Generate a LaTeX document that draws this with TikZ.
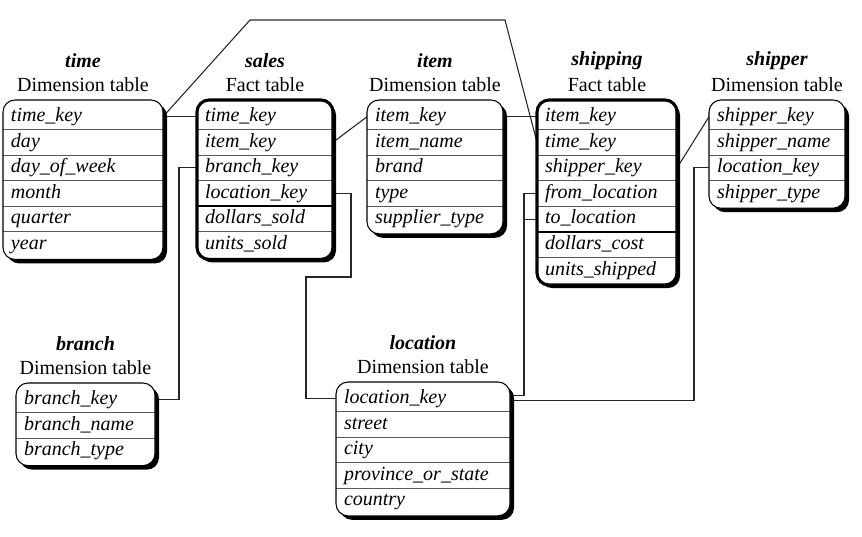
\documentclass[tikz,border=0pt]{standalone}
\usepackage{fontspec}
\setmainfont{Liberation Serif}
\usetikzlibrary{calc}
\pgfdeclarelayer{bg}
\pgfsetlayers{bg,main}
\tikzset{
  rowtext/.style={font=\fontsize{15pt}{18pt}\selectfont\itshape, inner xsep=6pt, inner ysep=0pt, outer sep=0pt, minimum height=19.2pt, align=left},
  ttl/.style={font=\fontsize{15pt}{18pt}\selectfont\bfseries\itshape, inner sep=0pt},
  sub/.style={font=\fontsize{15pt}{18pt}\selectfont, inner sep=0pt},
  sep/.style={draw=black!65, line width=0.85pt},
  thicksep/.style={draw=black, line width=1.6pt},
  dimborder/.style={draw=black, line width=0.8pt},
  factborder/.style={draw=black, line width=2.3pt},
  conn/.style={draw=black!85, line width=0.8pt},
}
% #1 name #2 L #3 R #4 T #5 title #6 subtitle #7 fact(1/0) #8 rows #9 thick separator index
\newcommand\dbtable[9]{%
  \foreach \r [count=\k] in {#8} {\xdef\dbn{\k}}%
  \pgfmathsetmacro\dbB{#4+29.5+(\dbn-2)*25.6+27.5}%
  \pgfmathsetmacro\dbtw{(#3-#2)*0.75}%
  \pgfmathsetmacro\dbtxw{(#3-#2)*0.75-12}%
  \ifnum#7=1
    \fill[black,rounded corners=9pt] (#2+3,#4+3) rectangle (#3+3,\dbB+3);
  \else
    \fill[black,rounded corners=9pt] (#2+4,#4+4) rectangle (#3+4,\dbB+4);
  \fi
  \fill[white,rounded corners=9pt] (#2,#4) rectangle (#3,\dbB);
  \pgfmathtruncatemacro\dbm{\dbn-1}%
  \foreach \k in {1,...,\dbm} {%
    \pgfmathsetmacro\dby{#4+29.5+(\k-1)*25.6}%
    \ifnum\k=#9
      \draw[thicksep] (#2,\dby) -- (#3,\dby);
    \else
      \draw[sep] (#2,\dby) -- (#3,\dby);
    \fi
  }%
  \ifnum#7=1
    \draw[factborder,rounded corners=9pt] (#2,#4) rectangle (#3,\dbB);
  \else
    \draw[dimborder,rounded corners=9pt] (#2,#4) rectangle (#3,\dbB);
  \fi
  \foreach \r [count=\k] in {#8} {%
    \node[rowtext, minimum width=\dbtw pt, text width=\dbtxw pt] (#1-\k) at ({(#2+#3)/2},{#4+16.7+(\k-1)*25.6}) {\strut\r};
  }%
  \node[ttl] (#1-title) at ({(#2+#3)/2},{#4-39}) {#5};
  \node[sub] (#1-sub) at ({(#2+#3)/2},{#4-15}) {#6};
}
\begin{document}
\begin{tikzpicture}[x=0.75pt,y=-0.75pt]
\useasboundingbox (0,0) rectangle (862,536);

\dbtable{time}{3}{163}{100}{time}{Dimension table}{0}{time\_key,day,day\_of\_week,month,quarter,year}{0}
\dbtable{sales}{197}{333}{100}{sales}{Fact table}{1}{time\_key,item\_key,branch\_key,location\_key,dollars\_sold,units\_sold}{4}
\dbtable{item}{367}{503}{100}{item}{Dimension table}{0}{item\_key,item\_name,brand,type,supplier\_type}{0}
\dbtable{shipping}{537}{677}{100}{shipping}{Fact table}{1}{item\_key,time\_key,shipper\_key,from\_location,to\_location,dollars\_cost,units\_shipped}{5}
\dbtable{shipper}{709}{845}{100}{shipper}{Dimension table}{0}{shipper\_key,shipper\_name,location\_key,shipper\_type}{0}
\dbtable{branch}{16}{155}{383}{branch}{Dimension table}{0}{branch\_key,branch\_name,branch\_type}{0}
\dbtable{location}{336}{510}{382}{location}{Dimension table}{0}{location\_key,street,city,province\_or\_state,country}{0}

\coordinate (ctopA) at (250,20);
\coordinate (ctopB) at (505,20);
\coordinate (cloc) at (306,277);

\begin{pgfonlayer}{bg}
\draw[conn] (time-1.east) -- (ctopA) -- (ctopB) -- (shipping-2.west);
\draw[conn] (time-1.east) -- (sales-1.west);
\draw[conn] (sales-2.east) -- (item-1.west);
\draw[conn] (sales-3.west) -- ++(-18,0) |- (branch-1.east);
\draw[conn] (sales-4.east) -- ++(18,0) |- (cloc) |- (location-1.west);
\draw[conn] (item-1.east) -- (shipping-1.west);
\draw[conn] (shipping-3.east) -- (shipper-1.west);
\draw[conn] (shipping-4.west) -- ++(-13,0) |- ($(location-1.east)+(0,-3.5)$);
\draw[conn] (shipping-5.west) -- ++(-13,0);
\draw[conn] (shipper-3.west) -- ++(-15,0) |- ($(location-1.east)+(0,2)$);
\end{pgfonlayer}
\end{tikzpicture}
\end{document}
